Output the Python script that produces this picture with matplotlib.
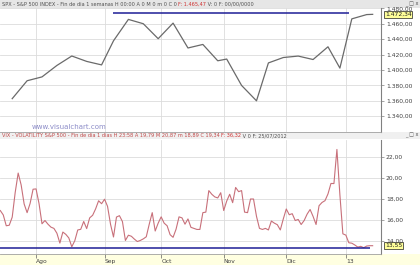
import matplotlib
matplotlib.use('Agg')
import matplotlib.pyplot as plt
import numpy as np
import pandas as pd
from matplotlib.patches import Rectangle
from matplotlib.ticker import FixedLocator, FuncFormatter, NullLocator

# ---------------- data ----------------
first_day, last_day = '2012-07-16', '2013-01-15'
market_holidays = ['2012-09-03', '2012-10-29', '2012-10-30',
                   '2012-11-22', '2012-12-25', '2013-01-01']

week_dates = ['2012-07-20', '2012-07-27', '2012-08-03', '2012-08-10', '2012-08-17',
              '2012-08-24', '2012-08-31', '2012-09-07', '2012-09-14', '2012-09-21',
              '2012-09-28', '2012-10-05', '2012-10-12', '2012-10-19', '2012-10-26',
              '2012-11-02', '2012-11-09', '2012-11-16', '2012-11-23', '2012-11-30',
              '2012-12-07', '2012-12-14', '2012-12-21', '2012-12-28', '2013-01-04',
              '2013-01-11', '2013-01-15']
spx_weekly = [1362.66, 1385.97, 1390.99, 1405.87, 1418.16,
              1411.13, 1406.58, 1437.92, 1465.77, 1460.15,
              1440.67, 1460.93, 1428.59, 1433.19, 1411.94,
              1414.20, 1379.85, 1359.88, 1409.15, 1416.18,
              1418.07, 1413.58, 1430.15, 1402.43, 1466.47,
              1472.05, 1472.34]

vix_daily = [16.90, 16.48, 15.45, 15.50, 16.27, 18.62, 20.47, 19.34, 17.53, 16.70,
             17.57, 18.93, 18.96, 17.57, 15.64, 15.95, 15.60, 15.32, 15.20, 14.74,
             13.80, 14.85, 14.63, 14.29, 13.45, 14.02, 15.05, 15.11, 15.86, 15.18,
             16.20, 16.45, 17.06, 17.83, 17.55, 17.98, 17.30, 15.60, 14.38, 16.28,
             16.41, 15.85, 14.05, 14.55, 14.45, 14.18, 13.95, 14.05, 14.20, 14.40,
             15.60, 16.70, 14.95, 15.70, 16.30, 15.70, 15.45, 14.60, 14.35, 15.12,
             16.30, 16.20, 15.60, 16.10, 15.30, 15.20, 15.10, 15.10, 16.70, 16.75,
             18.80, 18.45, 18.20, 18.10, 18.60, 16.90, 17.80, 18.45, 17.65, 19.10,
             18.70, 18.80, 16.75, 16.70, 18.00, 18.00, 16.35, 15.20, 15.10, 15.20,
             15.05, 15.90, 15.70, 15.55, 15.05, 16.10, 17.05, 16.50, 16.60, 15.95,
             16.05, 15.57, 15.95, 16.56, 17.00, 16.34, 15.57, 17.36, 17.67, 17.84,
             18.48, 19.48, 19.47, 22.72, 18.40, 14.68, 14.56, 13.83, 13.79, 13.62,
             13.42, 13.49, 13.36, 13.52, 13.55, 13.55]

month_starts = ['2012-08-01', '2012-09-04', '2012-10-01', '2012-11-01', '2012-12-03', '2013-01-02']
month_labels = ['Ago', 'Sep', 'Oct', 'Nov', 'Dic', '13']

spx_ticks = [1340, 1360, 1380, 1400, 1420, 1440, 1460, 1480]
vix_ticks = [14, 16, 18, 20, 22]
spx_last = 1472.34
vix_last = 13.55
spx_resistance = 1474.51
resistance_span = ['2012-09-07', '2013-01-03']
vix_support = 13.30
support_span = ['2012-07-16', '2013-01-14']

spx_title = "SPX - S&P 500 INDEX - Fin de dia 1 semanas H 00:00 A 0 M 0 m 0 C 0 "
spx_title_red = "F: 1.465,47"
spx_title_end = " V: 0 F: 00/00/0000"
vix_title = "VIX - VOLATILITY S&P 500 - Fin de dia 1 dias H 23:58 A 19,79 M 20,87 m 18,89 C 19,34 "
vix_title_red = "F: 36,32"
vix_title_end = " V 0 F: 25/07/2012"
watermark = "www.visualchart.com"

# ---------------- helpers ----------------
days = pd.bdate_range(first_day, last_day)
days = days[~days.isin(pd.to_datetime(market_holidays))]


def pos(d):
    return days.get_loc(pd.Timestamp(d))


def es(v, _=None):
    s = f"{v:,.2f}"
    return s.replace(',', 'X').replace('.', ',').replace('X', '.')


W, H = 420, 265
fig = plt.figure(figsize=(W / 100, H / 100), dpi=100)
fig.patch.set_facecolor('white')

def fx(px):
    return px / W

def fy(py):
    return 1 - py / H

# background strips
fig.add_artist(Rectangle((0, fy(8)), 1, 8 / H, transform=fig.transFigure,
                         facecolor='#E6E6E6', edgecolor='none', zorder=0))
fig.add_artist(Rectangle((0, fy(139)), 1, 7 / H, transform=fig.transFigure,
                         facecolor='#F0F0F0', edgecolor='none', zorder=0))
fig.add_artist(Rectangle((0, 0), 1, 11 / H, transform=fig.transFigure,
                         facecolor='#FFFFE1', edgecolor='none', zorder=0))

right = 381
ax1 = fig.add_axes([0, fy(132), fx(right), (132 - 8) / H])
ax2 = fig.add_axes([0, fy(254), fx(right), (254 - 140) / H])

xmin, xmax = -0.1, 127.8
grid_c = '#DCDCDC'
tick_fs = 4.3

for ax in (ax1, ax2):
    ax.set_xlim(xmin, xmax)
    ax.set_facecolor('white')
    for s in ('left', 'top'):
        ax.spines[s].set_visible(False)
    ax.spines['right'].set_color('#808080')
    ax.spines['right'].set_linewidth(0.8)
    ax.spines['bottom'].set_color('#A0A0A0')
    ax.spines['bottom'].set_linewidth(0.6)
    ax.yaxis.tick_right()
    ax.tick_params(axis='y', which='major', direction='out', length=2.5, width=0.5,
                   color='#808080', labelsize=tick_fs, labelcolor='#404040', pad=1)
    ax.xaxis.set_major_locator(FixedLocator([pos(d) for d in month_starts]))
    ax.grid(True, color=grid_c, linewidth=0.6)
    ax.set_axisbelow(True)

# ---------- top panel ----------
wx = [pos(d) for d in week_dates]
ax1.plot(wx, spx_weekly, color='#6A6A6A', linewidth=0.9, zorder=3)
ax1.set_ylim(1319.3, 1480.6)
ax1.yaxis.set_major_locator(FixedLocator(spx_ticks))
ax1.yaxis.set_major_formatter(FuncFormatter(es))
ax1.tick_params(axis='x', length=0, labelbottom=False)
ax1.hlines(spx_resistance, pos(resistance_span[0]), pos(resistance_span[1]),
           color='#1E1E96', linewidth=1.1, zorder=4)
ax1.text(1.01, spx_last, es(spx_last), transform=ax1.get_yaxis_transform(),
         fontsize=tick_fs, color='#202020', va='center', ha='left', clip_on=False,
         bbox=dict(boxstyle='square,pad=0.15', fc='#FFFF99', ec='#202020', lw=0.5), zorder=6)
ax1.text(fx(32) / fx(right), 1319.3 + 6.5, watermark, transform=ax1.get_yaxis_transform(),
         fontsize=5, color='#8C8CC8', ha='left', va='center')

# ---------- bottom panel ----------
dx = np.arange(len(vix_daily))
ax2.plot(dx, vix_daily, color='#C8707A', linewidth=0.8, zorder=3)
ax2.set_ylim(12.76, 23.62)
ax2.yaxis.set_major_locator(FixedLocator(vix_ticks))
ax2.yaxis.set_major_formatter(FuncFormatter(es))
ax2.hlines(vix_support, pos(support_span[0]), pos(support_span[1]),
           color='#1E1E96', linewidth=1.1, zorder=4)
ax2.text(1.01, vix_last, es(vix_last), transform=ax2.get_yaxis_transform(),
         fontsize=tick_fs, color='#202020', va='center', ha='left', clip_on=False,
         bbox=dict(boxstyle='square,pad=0.15', fc='#FFFF99', ec='#202020', lw=0.5), zorder=6)
ax2.xaxis.set_major_formatter(FuncFormatter(lambda v, p: month_labels[p] if p is not None and p < len(month_labels) else ''))
ax2.set_xticklabels(month_labels)
ax2.tick_params(axis='x', direction='out', length=3, width=0.5, color='#606060',
                labelsize=tick_fs, labelcolor='#404040', pad=0.5)
for lbl in ax2.get_xticklabels():
    lbl.set_horizontalalignment('left')

# ---------- titles ----------
def title_line(y_px, parts):
    x = fx(2)
    r = fig.canvas.get_renderer()
    for txt, col in parts:
        t = fig.text(x, fy(y_px), txt, fontsize=3.6, color=col, va='center', ha='left')
        bb = t.get_window_extent(renderer=r)
        x += bb.width / fig.bbox.width

title_line(4, [(spx_title, '#505050'), (spx_title_red, '#D03030'), (spx_title_end, '#505050')])
title_line(135.5, [(vix_title, '#C04848'), (vix_title_red, '#D03030'), (vix_title_end, '#505050')])

for yy in (4, 135.5):
    fig.text(fx(405), fy(yy), '_ □ x', fontsize=3.6, color='#505050', va='center', ha='left')

fig.savefig('out.png', dpi=100, facecolor='white')
